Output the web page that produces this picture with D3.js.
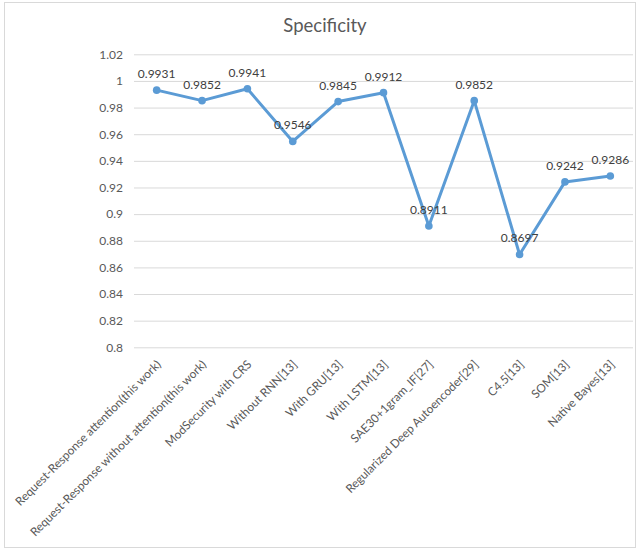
<!DOCTYPE html>
<html>
<head>
<meta charset="utf-8">
<script src="https://cdn.jsdelivr.net/npm/d3@7/dist/d3.min.js"></script>
<style>
  html, body { margin: 0; padding: 0; background: #fff; }
  svg { display: block; font-family: Lato, "Liberation Sans", sans-serif; }
</style>
</head>
<body>
<svg id="chart" width="638" height="550"></svg>
<script>
// Specificity per method
const categories = [
  "Request-Response attention(this work)",
  "Request-Response without attention(this work)",
  "ModSecurity with CRS",
  "Without RNN[13]",
  "With GRU[13]",
  "With LSTM[13]",
  "SAE30+1gram_IF[27]",
  "Regularized Deep Autoencoder[29]",
  "C4.5[13]",
  "SOM[13]",
  "Native Bayes[13]"
];
const specificity = [0.9931, 0.9852, 0.9941, 0.9546, 0.9845, 0.9912, 0.8911, 0.9852, 0.8697, 0.9242, 0.9286];
const yTicks = [0.8, 0.82, 0.84, 0.86, 0.88, 0.9, 0.92, 0.94, 0.96, 0.98, 1, 1.02];
const title = "Specificity";

const svg = d3.select("#chart");
const plot = { left: 134, right: 633, top: 54.3, bottom: 347.3 };

// outer chart frame
svg.append("rect")
  .attr("x", 4.5).attr("y", 2.5)
  .attr("width", 631).attr("height", 545)
  .attr("fill", "#fff").attr("stroke", "#D9D9D9").attr("stroke-width", 1);

svg.append("text")
  .attr("x", 325).attr("y", 32)
  .attr("text-anchor", "middle")
  .attr("font-size", 18.5)
  .attr("fill", "#595959")
  .text(title);

const x = d3.scaleBand().domain(categories).range([plot.left, plot.right]).padding(0);
const y = d3.scaleLinear().domain([0.8, 1.02]).range([plot.bottom, plot.top]);

// horizontal gridlines and value labels
const yAxis = d3.axisLeft(y).tickValues(yTicks).tickSize(-(plot.right - plot.left))
  .tickFormat(d => d3.format("~g")(+d.toFixed(2))).tickPadding(11);
const gy = svg.append("g").attr("transform", `translate(${plot.left},0)`).call(yAxis);
gy.select(".domain").remove();
gy.selectAll(".tick line").attr("stroke", "#D9D9D9").attr("stroke-width", 1);
gy.selectAll(".tick text").attr("fill", "#595959").attr("font-size", 12)
  .attr("font-family", "Lato, sans-serif");

// category labels, rotated
const xAxis = d3.axisBottom(x).tickSize(0).tickPadding(0);
const gx = svg.append("g").attr("transform", `translate(0,${plot.bottom})`).call(xAxis);
gx.select(".domain").remove();
gx.selectAll(".tick text")
  .attr("fill", "#595959").attr("font-size", 11.8)
  .attr("font-family", "Lato, sans-serif")
  .attr("text-anchor", "end")
  .attr("transform", "translate(-1,12) rotate(-45)")
  .attr("dy", "0.71em").attr("y", 0).attr("x", 0);

const cx = d => x(d.cat) + x.bandwidth() / 2;
const pts = categories.map((c, i) => ({ cat: c, v: specificity[i] }));

svg.append("path")
  .datum(pts)
  .attr("fill", "none")
  .attr("stroke", "#5B9BD5")
  .attr("stroke-width", 3)
  .attr("stroke-linejoin", "round")
  .attr("d", d3.line().x(cx).y(d => y(d.v)));

svg.append("g").selectAll("circle").data(pts).join("circle")
  .attr("cx", cx).attr("cy", d => y(d.v)).attr("r", 3.8)
  .attr("fill", "#5B9BD5");

svg.append("g").selectAll("text").data(pts).join("text")
  .attr("x", cx).attr("y", d => y(d.v) - 12)
  .attr("text-anchor", "middle")
  .attr("font-size", 12)
  .attr("fill", "#404040")
  .text(d => d.v.toFixed(4));
</script>
</body>
</html>
